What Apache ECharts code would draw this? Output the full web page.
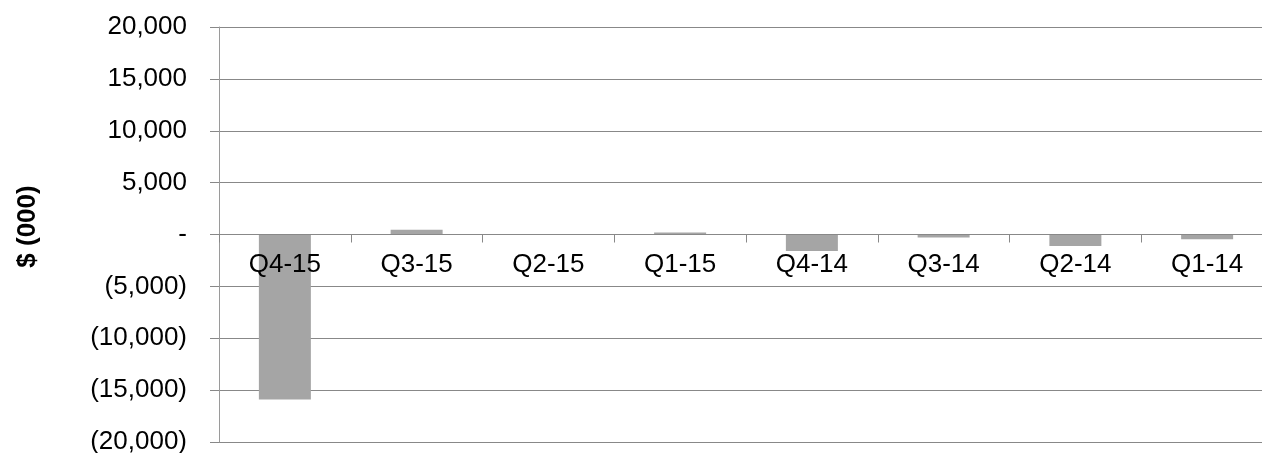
<!DOCTYPE html>
<html>
<head>
<meta charset="utf-8">
<script src="https://cdn.jsdelivr.net/npm/echarts@6/dist/echarts.min.js"></script>
<style>
  html, body { margin: 0; padding: 0; background: #fff; }
  #chart { width: 1262px; height: 453px; }
</style>
</head>
<body>
<div id="chart"></div>
<script>
var categories = ['Q4-15', 'Q3-15', 'Q2-15', 'Q1-15', 'Q4-14', 'Q3-14', 'Q2-14', 'Q1-14'];
var values = [-15900, 450, 0, 200, -1600, -300, -1100, -450];
var yTicks = [-20000, -15000, -10000, -5000, 0, 5000, 10000, 15000, 20000];
var yTickLabels = ['(20,000)', '(15,000)', '(10,000)', '(5,000)', '-', '5,000', '10,000', '15,000', '20,000'];

var myChart = echarts.init(document.getElementById('chart'));

// plot is 415px tall, zero sits in the middle
var zeroOffset = -207.5;

var option = {
    backgroundColor: '#ffffff',
    animation: false,
    textStyle: { fontFamily: 'Liberation Sans, Arial, sans-serif' },
    grid: {
        left: 219,
        right: -11,
        top: 27,
        bottom: 11,
        containLabel: false,
        outerBoundsMode: 'none'
    },
    xAxis: {
        type: 'category',
        data: categories,
        position: 'bottom',
        offset: zeroOffset,
        z: 10,
        axisLine: { onZero: false, lineStyle: { color: '#888888', width: 1 } },
        axisTick: { show: true, length: 8, lineStyle: { color: '#888888' } },
        axisLabel: { show: true, color: '#000', fontSize: 26, margin: 17, interval: 0, hideOverlap: false }
    },
    yAxis: {
        type: 'value',
        min: yTicks[0],
        max: yTicks[yTicks.length - 1],
        interval: 5000,
        name: '$ (000)',
        nameLocation: 'middle',
        nameGap: 178,
        nameRotate: 90,
        nameMoveOverlap: false,
        nameTextStyle: { color: '#000', fontSize: 26, fontWeight: 'bold', padding: [0, 0, 0, 16] },
        axisLine: { show: true, lineStyle: { color: '#9a9a9a', width: 1 } },
        axisTick: { show: true, length: 9, lineStyle: { color: '#888888' } },
        splitLine: { show: true, lineStyle: { color: '#888888', width: 1 } },
        axisLabel: {
            color: '#000',
            fontSize: 26,
            margin: 32,
            formatter: function (v) {
                var i = yTicks.indexOf(v);
                return i >= 0 ? yTickLabels[i] : '';
            }
        }
    },
    series: [{
        type: 'bar',
        data: values,
        barWidth: 52,
        itemStyle: { color: '#a5a5a5' }
    }]
};

myChart.setOption(option);
</script>
</body>
</html>
